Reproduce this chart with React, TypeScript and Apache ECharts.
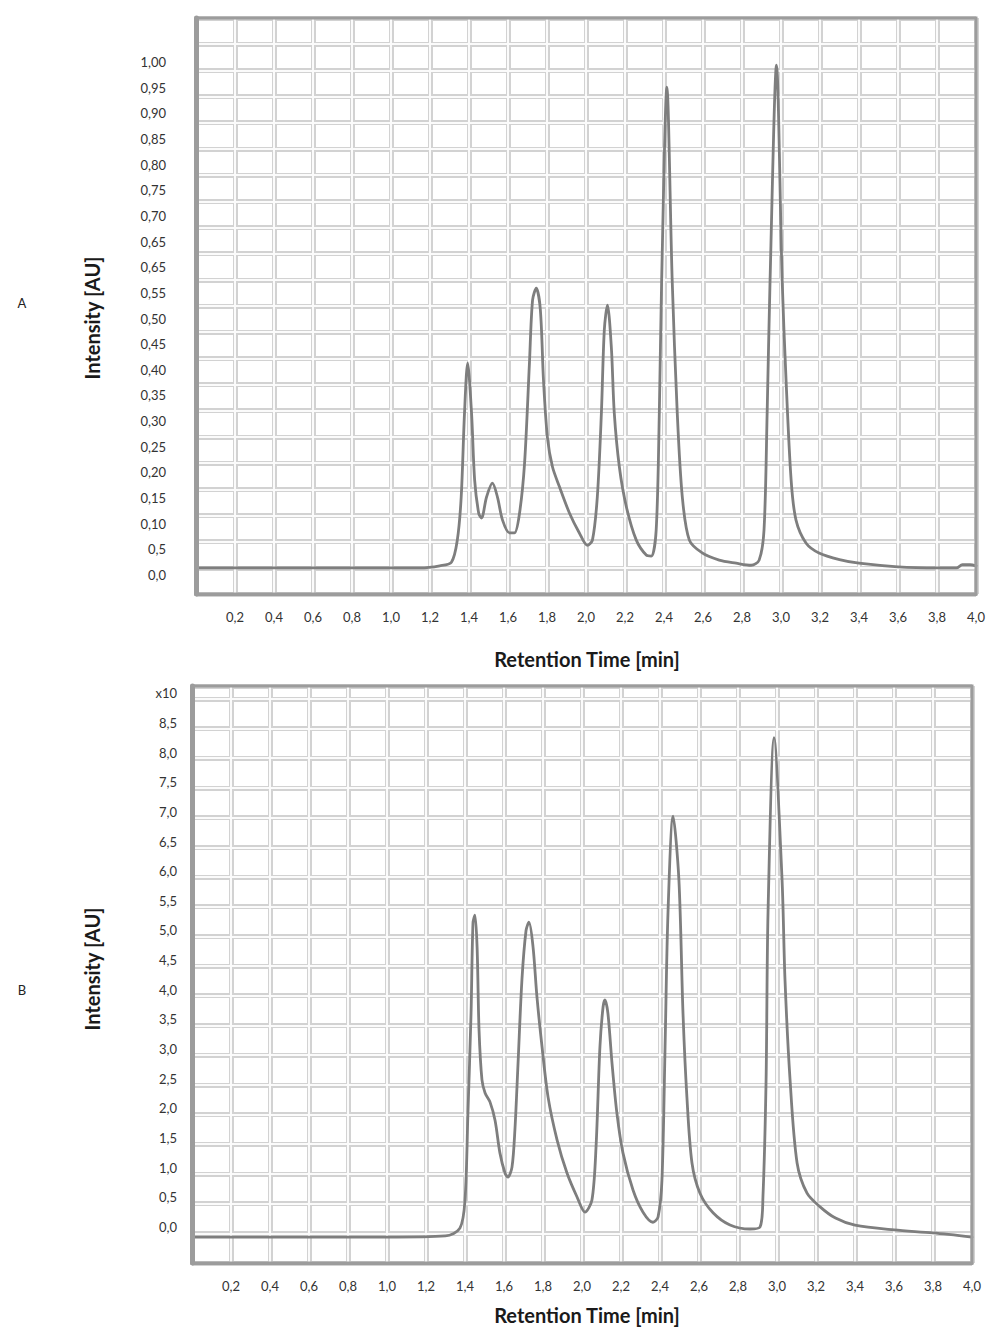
import React, { useEffect, useRef } from "react";
import * as echarts from "echarts";

// ---------- DATA ----------
// Panel A: retention time [min] and intensity [AU]
const timeA = [
  0.0, 0.5, 1.0, 1.15, 1.25, 1.31, 1.34, 1.36, 1.377, 1.393, 1.413, 1.429, 1.45, 1.464,
  1.49, 1.52, 1.546, 1.572, 1.608, 1.633, 1.659, 1.685, 1.71, 1.726, 1.745, 1.766, 1.782,
  1.802, 1.828, 1.864, 1.915, 1.966, 2.007, 2.033, 2.058, 2.079, 2.094, 2.11, 2.13, 2.145,
  2.171, 2.207, 2.258, 2.309, 2.335, 2.36, 2.376, 2.388, 2.415, 2.442, 2.468, 2.494, 2.53,
  2.596, 2.683, 2.77, 2.847, 2.888, 2.913, 2.929, 2.944, 2.977, 3.006, 3.026, 3.052, 3.077,
  3.129, 3.195, 3.3, 3.4, 3.6, 3.8, 3.9, 3.93, 3.97, 4.0,
];
const intensityA = [
  0.014, 0.014, 0.014, 0.014, 0.018, 0.025, 0.068, 0.152, 0.316, 0.413, 0.316, 0.185, 0.12, 0.111,
  0.152, 0.179, 0.152, 0.107, 0.082, 0.082, 0.12, 0.218, 0.413, 0.536, 0.559, 0.517, 0.38,
  0.269, 0.211, 0.172, 0.121, 0.082, 0.058, 0.068, 0.152, 0.316, 0.478, 0.526, 0.444, 0.316,
  0.211, 0.133, 0.068, 0.039, 0.037, 0.088, 0.316, 0.575, 0.951, 0.575, 0.316, 0.152, 0.068,
  0.043, 0.029, 0.023, 0.019, 0.029, 0.088, 0.316, 0.575, 0.994, 0.575, 0.38, 0.185, 0.107,
  0.062, 0.043, 0.03, 0.023, 0.016, 0.014, 0.014, 0.02, 0.02, 0.018,
];

// Panel B
const timeB = [
  0.0, 0.5, 1.0, 1.3, 1.374, 1.4, 1.415, 1.431, 1.441, 1.451, 1.462, 1.472, 1.487, 1.503,
  1.528, 1.554, 1.579, 1.605, 1.62, 1.641, 1.656, 1.672, 1.692, 1.713, 1.728, 1.749, 1.769,
  1.795, 1.826, 1.872, 1.923, 1.974, 2.015, 2.051, 2.072, 2.092, 2.108, 2.118, 2.133, 2.154,
  2.179, 2.21, 2.262, 2.313, 2.364, 2.39, 2.41, 2.426, 2.441, 2.467, 2.497, 2.518, 2.538,
  2.564, 2.605, 2.672, 2.759, 2.862, 2.913, 2.928, 2.944, 2.954, 2.985, 3.026, 3.041, 3.067,
  3.103, 3.154, 3.221, 3.3, 3.4, 3.6, 3.8, 4.0,
];
const intensityB = [
  -0.17, -0.17, -0.17, -0.15, -0.02, 0.455, 1.92, 3.6, 5.13, 5.26, 4.72, 3.32, 2.48, 2.26,
  2.11, 1.8, 1.25, 0.91, 0.84, 1.01, 1.64, 2.76, 4.17, 5.0, 5.14, 4.72, 3.88,
  3.04, 2.19, 1.47, 0.91, 0.51, 0.25, 0.455, 1.35, 3.04, 3.71, 3.83, 3.6, 2.76,
  1.92, 1.25, 0.62, 0.25, 0.08, 0.17, 0.79, 3.04, 5.3, 6.93, 5.85, 3.6, 2.19,
  1.08, 0.57, 0.24, 0.034, -0.034, 0.0, 0.51, 2.48, 5.3, 8.25, 5.85, 4.17, 2.48,
  1.08, 0.57, 0.34, 0.15, 0.03, -0.05, -0.1, -0.17,
];

// Tick labels
const xTickValues = [0.2, 0.4, 0.6, 0.8, 1.0, 1.2, 1.4, 1.6, 1.8, 2.0, 2.2, 2.4, 2.6, 2.8, 3.0, 3.2, 3.4, 3.6, 3.8, 4.0];
const xTickLabels = ["0,2", "0,4", "0,6", "0,8", "1,0", "1,2", "1,4", "1,6", "1,8", "2,0", "2,2", "2,4", "2,6", "2,8", "3,0", "3,2", "3,4", "3,6", "3,8", "4,0"];

const yTickValuesA = [0, 0.05, 0.1, 0.15, 0.2, 0.25, 0.3, 0.35, 0.4, 0.45, 0.5, 0.55, 0.6, 0.65, 0.7, 0.75, 0.8, 0.85, 0.9, 0.95, 1.0];
const yTickLabelsA = ["0,0", "0,5", "0,10", "0,15", "0,20", "0,25", "0,30", "0,35", "0,40", "0,45", "0,50", "0,55", "0,65", "0,65", "0,70", "0,75", "0,80", "0,85", "0,90", "0,95", "1,00"];

const yTickValuesB = [0, 0.5, 1, 1.5, 2, 2.5, 3, 3.5, 4, 4.5, 5, 5.5, 6, 6.5, 7, 7.5, 8, 8.5, 9];
const yTickLabelsB = ["0,0", "0,5", "1,0", "1,5", "2,0", "2,5", "3,0", "3,5", "4,0", "4,5", "5,0", "5,5", "6,0", "6,5", "7,0", "7,5", "8,0", "8,5", "x10"];

// ---------- STYLE ----------
const FONT = "Lato";
const GRID_GRAY = "#d2d2d2";
const GRID_WHITE = "#fbfbfb";
const FRAME = "#9c9c9c";
const CURVE = "#7e7e7e";

const lookup = (vals: number[], labels: string[]) => (v: number) => {
  for (let i = 0; i < vals.length; i++) if (Math.abs(vals[i] - v) < 1e-6) return labels[i];
  return "";
};

function buildPanel(gi: number, yMin: number, yMax: number, cellMax: number, yVals: number[], yLabels: string[], yMargin: number) {
  const xAxes = [
    {
      gridIndex: gi, type: "value", position: "bottom", min: 0, max: 4, interval: 0.2, z: 0,
      axisLine: { show: true, onZero: false, lineStyle: { color: FRAME, width: 3 } },
      axisTick: { show: false },
      axisLabel: {
        customValues: xTickValues,
        formatter: lookup(xTickValues, xTickLabels),
        margin: 16, fontFamily: FONT, fontSize: 13, color: "#333",
      },
      splitLine: { show: true, lineStyle: { color: GRID_GRAY, width: 5 } },
    },
    {
      gridIndex: gi, type: "value", position: "bottom", min: 0, max: 4, interval: 0.2, z: 1,
      axisLine: { show: false }, axisTick: { show: false }, axisLabel: { show: false },
      splitLine: { show: true, lineStyle: { color: GRID_WHITE, width: 2 } },
    },
  ];
  const yAxes = [
    {
      gridIndex: gi, type: "value", position: "left", min: yMin, max: yMax, z: 6,
      axisLine: { show: true, onZero: false, lineStyle: { color: FRAME, width: 5 } },
      axisTick: { show: false },
      axisLabel: {
        customValues: yVals,
        formatter: lookup(yVals, yLabels),
        margin: yMargin, fontFamily: FONT, fontSize: 13, color: "#333",
      },
      splitLine: { show: false },
    },
    {
      gridIndex: gi, type: "value", position: "left", min: 0, max: cellMax, interval: 1, z: 0,
      axisLine: { show: false }, axisTick: { show: false }, axisLabel: { show: false },
      splitLine: { show: true, lineStyle: { color: GRID_GRAY, width: 5 } },
    },
    {
      gridIndex: gi, type: "value", position: "left", min: 0, max: cellMax, interval: 1, z: 1,
      axisLine: { show: false }, axisTick: { show: false }, axisLabel: { show: false },
      splitLine: { show: true, lineStyle: { color: GRID_WHITE, width: 2 } },
    },
  ];
  return { xAxes, yAxes };
}

export default function App() {
  const ref = useRef<HTMLDivElement>(null);

  useEffect(() => {
    if (!ref.current) return;
    const chart = echarts.init(ref.current, undefined, { renderer: "svg" });

    const pA = buildPanel(0, -0.037, 1.0858, 22, yTickValuesA, yTickLabelsA, 30);
    const pB = buildPanel(1, -0.607, 9.123, 19.43, yTickValuesB, yTickLabelsB, 15);

    const dataA = timeA.map((t, i) => [t, intensityA[i]]);
    const dataB = timeB.map((t, i) => [t, intensityB[i]]);

    const titleFont = `bold 20px ${FONT}`;

    chart.setOption({
      animation: false,
      backgroundColor: "#ffffff",
      grid: [
        { left: 196, top: 18, width: 781, height: 576, show: true, z: 5, borderColor: FRAME, borderWidth: 3, backgroundColor: "transparent" },
        { left: 192, top: 686, width: 780, height: 577, show: true, z: 5, borderColor: FRAME, borderWidth: 3, backgroundColor: "transparent" },
      ],
      xAxis: [...pA.xAxes, ...pB.xAxes],
      yAxis: [...pA.yAxes, ...pB.yAxes],
      series: [
        {
          type: "line", name: "A", xAxisIndex: 0, yAxisIndex: 0, data: dataA,
          symbol: "none", smooth: 0.3, z: 3,
          lineStyle: { color: CURVE, width: 2.8, cap: "round", join: "round" },
        },
        {
          type: "line", name: "B", xAxisIndex: 2, yAxisIndex: 3, data: dataB,
          symbol: "none", smooth: 0.3, z: 3,
          lineStyle: { color: CURVE, width: 2.8, cap: "round", join: "round" },
        },
      ],
      graphic: [
        { type: "text", x: 587, y: 659, style: { text: "Retention Time [min]", font: titleFont, fill: "#1a1a1a", textAlign: "center", textVerticalAlign: "middle" } },
        { type: "text", x: 587, y: 1315, style: { text: "Retention Time [min]", font: titleFont, fill: "#1a1a1a", textAlign: "center", textVerticalAlign: "middle" } },
        { type: "text", x: 92, y: 318, rotation: Math.PI / 2, style: { text: "Intensity [AU]", font: titleFont, fill: "#1a1a1a", textAlign: "center", textVerticalAlign: "middle" } },
        { type: "text", x: 92, y: 969, rotation: Math.PI / 2, style: { text: "Intensity [AU]", font: titleFont, fill: "#1a1a1a", textAlign: "center", textVerticalAlign: "middle" } },
        { type: "text", x: 22, y: 303, style: { text: "A", font: `13px ${FONT}`, fill: "#222", textAlign: "center", textVerticalAlign: "middle" } },
        { type: "text", x: 22, y: 990, style: { text: "B", font: `13px ${FONT}`, fill: "#222", textAlign: "center", textVerticalAlign: "middle" } },
      ],
    });

    return () => chart.dispose();
  }, []);

  return <div ref={ref} style={{ position: "absolute", left: 0, top: 0, width: 988, height: 1328 }} />;
}
